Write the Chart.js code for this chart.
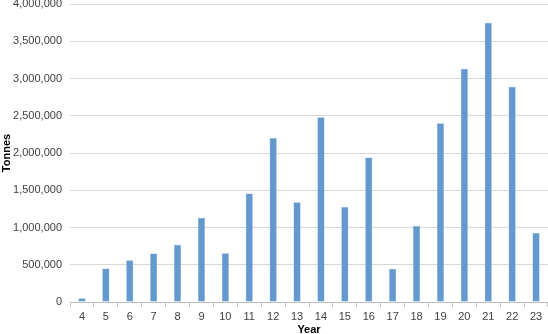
<!DOCTYPE html>
<html>
<head>
<meta charset="utf-8">
<script src="https://cdn.jsdelivr.net/npm/chart.js@4/dist/chart.umd.min.js"></script>
<style>
  html, body { margin: 0; padding: 0; background: #fff; }
  #wrap { width: 548px; height: 334px; }
</style>
</head>
<body>
<div id="wrap"><canvas id="tonnesChart"></canvas></div>
<script>
// Tonnes by year
const years = ['4', '5', '6', '7', '8', '9', '10', '11', '12', '13', '14', '15', '16', '17', '18', '19', '20', '21', '22', '23'];
const tonnes = [50000, 450000, 560000, 650000, 770000, 1130000, 655000, 1455000, 2200000, 1340000,
                2480000, 1275000, 1940000, 447000, 1020000, 2400000, 3130000, 3750000, 2890000, 925000];

const ctx = document.getElementById('tonnesChart').getContext('2d');
new Chart(ctx, {
    type: 'bar',
    data: {
        labels: years,
        datasets: [{
            label: 'Tonnes',
            data: tonnes,
            backgroundColor: '#6399CD',
            borderColor: '#8DB4DE',
            borderWidth: 0.5,
            barPercentage: 0.6,
            categoryPercentage: 0.5
        }]
    },
    options: {
        responsive: true,
        maintainAspectRatio: false,
        animation: false,
        layout: { padding: { top: 4, right: 0, left: 0, bottom: 0 } },
        plugins: {
            legend: { display: false },
            tooltip: { enabled: false }
        },
        scales: {
            x: {
                grid: {
                    offset: true,
                    drawOnChartArea: false,
                    drawTicks: true,
                    tickLength: 5,
                    color: '#bfbfbf'
                },
                border: { color: '#bfbfbf' },
                ticks: {
                    color: '#404040',
                    font: { family: 'Liberation Sans', size: 11 },
                    padding: 3,
                    maxRotation: 0
                },
                title: {
                    display: true,
                    text: 'Year',
                    color: '#000',
                    font: { family: 'Liberation Sans', size: 11, weight: 'bold' },
                    padding: { top: 0, bottom: -3 }
                },
                afterFit: axis => { axis.height = 32; axis.paddingRight = 0; axis.paddingLeft = 0; }
            },
            y: {
                min: 0,
                max: 4000000,
                grid: {
                    color: '#d9d9d9',
                    drawTicks: false
                },
                border: { display: false },
                ticks: {
                    stepSize: 500000,
                    color: '#404040',
                    font: { family: 'Liberation Sans', size: 11 },
                    padding: 8,
                    callback: v => v.toLocaleString('en-US')
                },
                title: {
                    display: true,
                    text: 'Tonnes',
                    color: '#000',
                    font: { family: 'Liberation Sans', size: 11, weight: 'bold' },
                    padding: { top: 0, bottom: 0 }
                },
                afterFit: axis => { axis.width = 70; axis.paddingTop = 0; axis.paddingBottom = 0; }
            }
        }
    }
});
</script>
</body>
</html>
